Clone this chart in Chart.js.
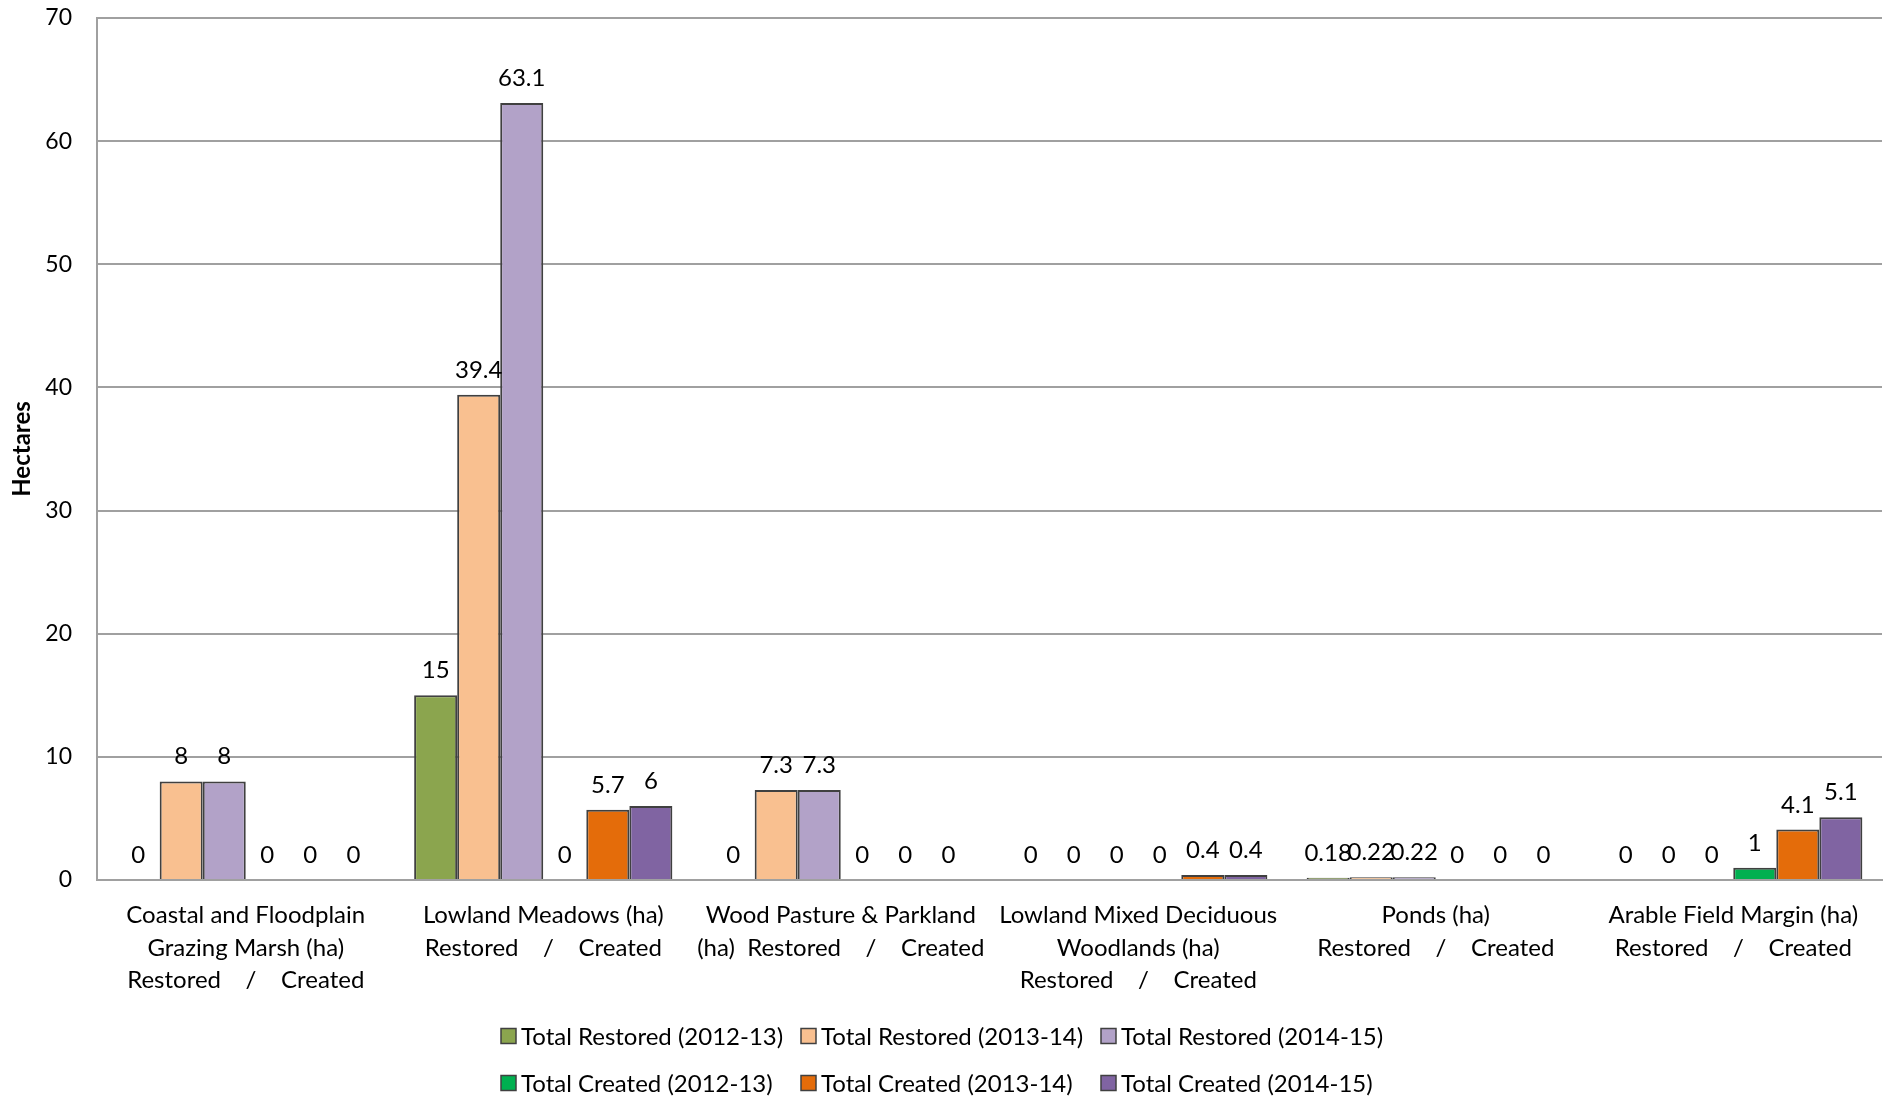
<!DOCTYPE html>
<html>
<head>
<meta charset="utf-8">
<script src="https://cdn.jsdelivr.net/npm/chart.js@4/dist/chart.umd.min.js"></script>
<style>
  html, body { margin: 0; padding: 0; background: #fff; }
  #wrap { width: 1885px; height: 1098px; }
</style>
</head>
<body>
<div id="wrap"><canvas id="c" width="1885" height="1098"></canvas></div>
<script>
// Habitat categories (multi-line axis labels)
const categories = [
  ["Coastal and Floodplain", "Grazing Marsh (ha)", "Restored    /    Created"],
  ["Lowland Meadows (ha)", "Restored    /    Created"],
  ["Wood Pasture & Parkland", "(ha)  Restored    /    Created"],
  ["Lowland Mixed Deciduous", "Woodlands (ha)", "Restored    /    Created"],
  ["Ponds (ha)", "Restored    /    Created"],
  ["Arable Field Margin (ha)", "Restored    /    Created"]
];

// Hectares per habitat, one array per series
const restored201213 = [0, 15, 0, 0, 0.18, 0];
const restored201314 = [8, 39.4, 7.3, 0, 0.22, 0];
const restored201415 = [8, 63.1, 7.3, 0, 0.22, 0];
const created201213  = [0, 0, 0, 0, 0, 1];
const created201314  = [0, 5.7, 0, 0.4, 0, 4.1];
const created201415  = [0, 6, 0, 0.4, 0, 5.1];

const seriesLabels = [
  "Total Restored (2012-13)", "Total Restored (2013-14)", "Total Restored (2014-15)",
  "Total Created (2012-13)", "Total Created (2013-14)", "Total Created (2014-15)"
];

const yTicks = [0, 10, 20, 30, 40, 50, 60, 70];

const FONT = "Lato, 'Open Sans', sans-serif";
const EDGE = "#404040";
const colours = ["#8BA54E", "#F9C090", "#B2A2C8", "#00B050", "#E46C0A", "#8064A2"];
const seriesData = [restored201213, restored201314, restored201415, created201213, created201314, created201415];

// Value labels above every bar
const valueLabels = {
  id: "valueLabels",
  afterDatasetsDraw(chart) {
    const ctx = chart.ctx;
    ctx.save();
    ctx.font = "24px " + FONT;
    ctx.fillStyle = "#000";
    ctx.textAlign = "center";
    ctx.textBaseline = "alphabetic";
    chart.data.datasets.forEach((ds, i) => {
      const meta = chart.getDatasetMeta(i);
      meta.data.forEach((bar, j) => {
        ctx.fillText(String(ds.data[j]), bar.x, bar.y - 17);
      });
    });
    ctx.restore();
  }
};

// Legend laid out as a 3-column grid under the axis labels
const gridLegend = {
  id: "gridLegend",
  afterDraw(chart) {
    const ctx = chart.ctx;
    const cols = [501, 801, 1101];
    const rows = [1036, 1083];
    ctx.save();
    ctx.font = "24px " + FONT;
    ctx.textBaseline = "middle";
    ctx.textAlign = "left";
    chart.data.datasets.forEach((ds, i) => {
      const x = cols[i % 3];
      const y = rows[Math.floor(i / 3)];
      ctx.fillStyle = ds.backgroundColor;
      ctx.fillRect(x, y - 7.5, 15, 15);
      ctx.strokeStyle = EDGE;
      ctx.lineWidth = 1.5;
      ctx.strokeRect(x, y - 7.5, 15, 15);
      ctx.fillStyle = "#000";
      ctx.fillText(ds.label, x + 20, y + 1);
    });
    ctx.restore();
  }
};

new Chart(document.getElementById("c"), {
  type: "bar",
  data: {
    labels: categories,
    datasets: seriesData.map((d, i) => ({
      label: seriesLabels[i],
      data: d,
      backgroundColor: colours[i],
      borderColor: EDGE,
      borderWidth: 2,
      borderSkipped: "bottom",
      barPercentage: 1,
      categoryPercentage: 0.868
    }))
  },
  options: {
    responsive: false,
    animation: false,
    layout: { padding: { top: 18, right: 3, left: 0, bottom: 0 } },
    plugins: {
      legend: { display: false },
      tooltip: { enabled: false }
    },
    scales: {
      x: {
        grid: { display: false, drawTicks: false },
        border: { display: true, color: "#A0A0A0", width: 2 },
        ticks: {
          color: "#000",
          font: { family: FONT, size: 24, lineHeight: 1.355 },
          padding: 19,
          maxRotation: 0,
          autoSkip: false
        },
        afterFit(scale) {
          scale.height = 218;
          scale.paddingLeft = 0;
          scale.paddingRight = 0;
        }
      },
      y: {
        min: 0,
        max: 70,
        afterBuildTicks(scale) { scale.ticks = yTicks.map(v => ({ value: v })); },
        grid: { color: "#A0A0A0", lineWidth: 2, drawTicks: false },
        border: { display: true, color: "#A0A0A0", width: 2 },
        ticks: {
          color: "#000",
          font: { family: FONT, size: 23 },
          padding: 25
        },
        title: {
          display: true,
          text: "Hectares",
          color: "#000",
          font: { family: FONT, size: 24, weight: "bold" },
          padding: { top: 8, bottom: 0 }
        },
        afterFit(scale) {
          scale.width = 97;
          scale.paddingTop = 0;
          scale.paddingBottom = 0;
        }
      }
    }
  },
  plugins: [valueLabels, gridLegend]
});
</script>
</body>
</html>
